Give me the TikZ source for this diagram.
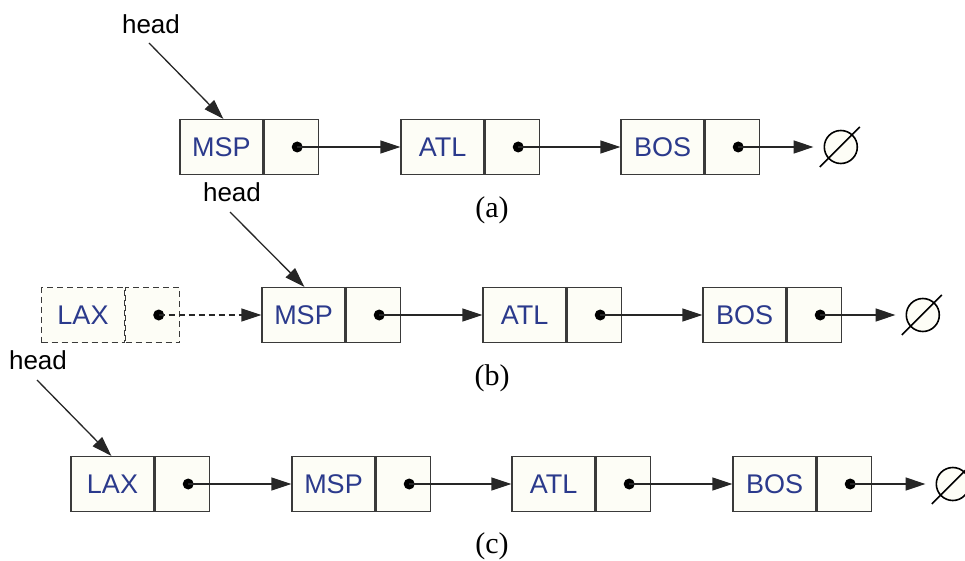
\documentclass[tikz,border=0pt]{standalone}
\usepackage{fontspec}
\setmainfont{Liberation Serif}
\setsansfont{Liberation Sans}
\usetikzlibrary{arrows.meta}
\definecolor{cellfill}{HTML}{FDFDF6}
\definecolor{cellline}{HTML}{3A3A3A}
\definecolor{keyblue}{HTML}{2B3A8C}
\tikzset{
  datacell/.style={draw=cellline, fill=cellfill, line width=1.2pt, minimum width=83pt,
    minimum height=55pt, inner sep=0pt, text=keyblue, font=\sffamily\fontsize{27}{30}\selectfont},
  ptrcell/.style={draw=cellline, fill=cellfill, line width=1.2pt, minimum width=54pt,
    minimum height=55pt, inner sep=0pt, anchor=west},
  ghost/.style={dash pattern=on 6pt off 4pt},
  ptr/.style={draw=black!85, line width=1.3pt, -{Triangle[length=20pt,width=13pt]}},
  dotmark/.style={circle, fill=black, inner sep=0pt, minimum size=11pt},
  nullsym/.style={circle, draw=black, fill=cellfill, line width=1.6pt, minimum size=33pt, inner sep=0pt},
  headlbl/.style={font=\sffamily\fontsize{26}{28}\selectfont},
  caption/.style={font=\rmfamily\fontsize{30}{32}\selectfont}
}
% one list element: data cell #2, pointer cell #2p, dot #2d
\newcommand{\listcell}[4][]{%
  \node[datacell,#1] (#2) at (#3) {#4};
  \node[ptrcell,#1] (#2p) at (#2.east) {};
  \node[dotmark] (#2d) at ([xshift=6pt]#2p.center) {};
}
% null marker #1 to the right of pointer cell #2
\newcommand{\nullafter}[2]{%
  \node[nullsym] (#1) at ([xshift=81pt]#2p.east) {};
  \draw[line width=1.6pt] ([shift={(-21pt,-20pt)}]#1.center) -- ([shift={(19pt,20pt)}]#1.center);
  \coordinate (#1w) at ([xshift=-10pt]#1.west);
  \draw[ptr] (#2d.center) -- (#1w);
}
\begin{document}
\begin{tikzpicture}[x=1pt, y=-1pt]
\useasboundingbox (0,0) rectangle (965,561);

% ---- (a) ----
\listcell{a1}{221.5,147}{MSP}
\listcell{a2}{442.5,147}{ATL}
\listcell{a3}{662.5,147}{BOS}
\nullafter{an}{a3}
\draw[ptr] (a1d.center) -- (a2.west);
\draw[ptr] (a2d.center) -- (a3.west);
\node[headlbl] (ha) at (151,24) {head};
\coordinate (ha0) at (149,43);
\draw[ptr] (ha0) -- ([xshift=44pt]a1.north west);
\node[caption] (capa) at (492,210) {(a)};

% ---- (b) ----
\listcell[ghost]{b0}{83,315}{LAX}
\listcell{b1}{303.5,315}{MSP}
\listcell{b2}{524.5,315}{ATL}
\listcell{b3}{744.5,315}{BOS}
\nullafter{bn}{b3}
\draw[ptr, ghost] (b0d.center) -- (b1.west);
\draw[ptr] (b1d.center) -- (b2.west);
\draw[ptr] (b2d.center) -- (b3.west);
\node[headlbl] (hb) at (232,192) {head};
\coordinate (hb0) at (230,212);
\draw[ptr] (hb0) -- ([xshift=43pt]b1.north west);
\node[caption] (capb) at (492,378) {(b)};

% ---- (c) ----
\listcell{c0}{112.5,484}{LAX}
\listcell{c1}{333.5,484}{MSP}
\listcell{c2}{553.5,484}{ATL}
\listcell{c3}{774.5,484}{BOS}
\nullafter{cn}{c3}
\draw[ptr] (c0d.center) -- (c1.west);
\draw[ptr] (c1d.center) -- (c2.west);
\draw[ptr] (c2d.center) -- (c3.west);
\node[headlbl] (hc) at (38,360) {head};
\coordinate (hc0) at (37,380);
\draw[ptr] (hc0) -- ([xshift=41pt]c0.north west);
\node[caption] (capc) at (492,546) {(c)};
\end{tikzpicture}
\end{document}
